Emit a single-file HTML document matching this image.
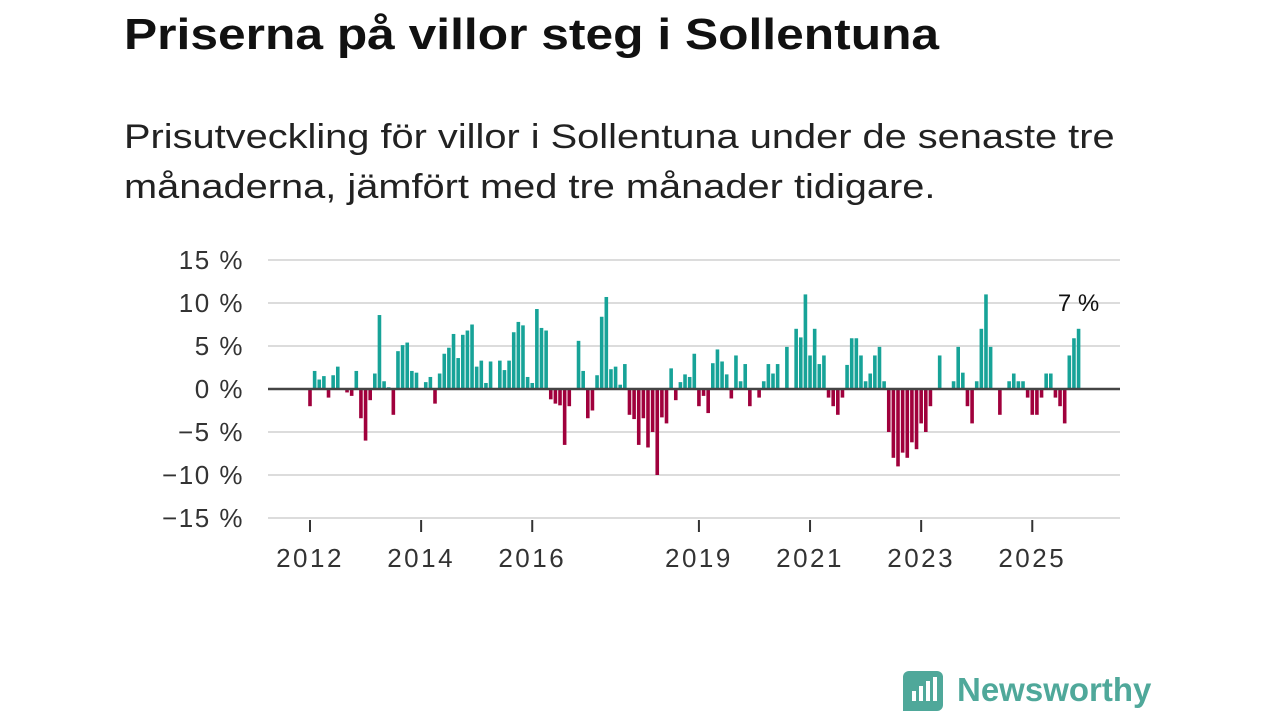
<!DOCTYPE html>
<html><head><meta charset="utf-8">
<style>
body{margin:0;width:1280px;height:720px;background:#fff;font-family:"Liberation Sans",sans-serif;overflow:hidden;position:relative;color:#111}
h1{position:absolute;left:124px;top:10px;margin:0;font-size:44px;font-weight:bold;transform:scaleX(1.13);transform-origin:left top;white-space:nowrap}
.sub{position:absolute;left:124px;top:112px;margin:0;font-size:34px;line-height:50px;color:#222;transform:scaleX(1.17);transform-origin:left top;white-space:nowrap}
svg{position:absolute;left:0;top:0}
</style></head><body>
<h1>Priserna på villor steg i Sollentuna</h1>
<p class="sub">Prisutveckling för villor i Sollentuna under de senaste tre<br>månaderna, jämfört med tre månader tidigare.</p>
<svg id="chart" width="1280" height="720"></svg>
<div style="position:absolute;left:903px;top:671px;width:40px;height:40px;background:#4fa89a;border-radius:6px 6px 6px 0">
  <div style="position:absolute;left:9px;top:20px;width:4px;height:10px;background:#fff"></div>
  <div style="position:absolute;left:16px;top:15px;width:4px;height:15px;background:#fff"></div>
  <div style="position:absolute;left:23px;top:10px;width:4px;height:20px;background:#fff"></div>
  <div style="position:absolute;left:30px;top:6px;width:4px;height:24px;background:#fff"></div>
</div>
<div style="position:absolute;left:957px;top:671px;font-size:33px;font-weight:bold;color:#4fa89a">Newsworthy</div>
<script>
const values=[-2,2.1,1.1,1.5,-1,1.6,2.6,0,-0.4,-0.8,2.1,-3.4,-6,-1.3,1.8,8.6,0.9,0.2,-3,4.4,5.1,5.4,2.1,1.9,0,0.8,1.4,-1.7,1.8,4.1,4.8,6.4,3.6,6.3,6.8,7.5,2.6,3.3,0.7,3.2,0,3.3,2.2,3.3,6.6,7.8,7.4,1.4,0.7,9.3,7.1,6.8,
-1.2,-1.7,-1.9,-6.5,-2,-0.1,5.6,2.1,-3.4,-2.5,1.6,8.4,10.7,2.3,2.6,0.5,2.9,-3,-3.5,-6.5,-3.4,-6.8,-5,-10,-3.3,-4,2.4,-1.3,0.8,1.7,1.4,4.1,-2,-0.8,-2.8,3,4.6,3.2,1.7,-1.1,3.9,0.9,2.9,-2,0,-1,0.9,2.9,1.8,2.9,0,4.9,0,7,6,11,3.9,7,2.9,3.9,
-1,-2,-3,-1,2.8,5.9,5.9,3.9,0.9,1.8,3.9,4.9,0.9,-5,-8,-9,-7.4,-8,-6.2,-7,-4,-5,-2,0,3.9,0,0,0.9,4.9,1.9,-2,-4,0.9,7,11,4.9,0,-3,0,0.9,1.8,0.9,0.9,-1,-3,-3,-1,1.8,1.8,-1,-2,-4,3.9,5.9,7];
const yTicks=[15,10,5,0,-5,-10,-15];
const yTickLabels=["15 %","10 %","5 %","0 %","−5 %","−10 %","−15 %"];
const xTickYears=[2012,2014,2016,2019,2021,2023,2025];
const startYear=2012;
const lastLabel="7 %";

const NS="http://www.w3.org/2000/svg";
const svg=document.getElementById('chart');
const y=v=>389-v*8.6;
const x=i=>310+i*4.63;
function mk(t,a){const e=document.createElementNS(NS,t);for(const k in a)e.setAttribute(k,a[k]);svg.appendChild(e);return e;}
yTicks.forEach((t,k)=>{
  if(t!==0){const g=mk('line',{x1:268,x2:1120,y1:y(t),y2:y(t),stroke:'#dcdcdc','stroke-width':2});
  
  }
  const tx=mk('text',{x:244,y:y(t)+9,'text-anchor':'end','font-size':26,'letter-spacing':1.5,fill:'#333','font-family':'Liberation Sans, sans-serif'});
  tx.textContent=yTickLabels[k];
  
  
});
values.forEach((v,i)=>{
  const r=mk('rect',{x:x(i)-1.8,width:3.6,y:Math.min(y(v),y(0)),height:Math.abs(y(v)-y(0)),fill:v>=0?'#17a398':'#a0003c'});
  
  
});
const z=mk('line',{x1:268,x2:1120,y1:y(0),y2:y(0),stroke:'#444','stroke-width':2.5});


xTickYears.forEach(yr=>{
  const xi=x((yr-startYear)*12);
  const l=mk('line',{x1:xi,x2:xi,y1:520,y2:532,stroke:'#333','stroke-width':2});
  
  
  const t=mk('text',{x:xi,y:567,'text-anchor':'middle','font-size':26,'letter-spacing':2.5,fill:'#333','font-family':'Liberation Sans, sans-serif'});
  t.textContent=yr;
  
  
});
const lab=mk('text',{x:x(values.length-1),y:311,'text-anchor':'middle','font-size':24,fill:'#111','font-family':'Liberation Sans, sans-serif'});
lab.textContent=lastLabel;


</script>
</body></html>
